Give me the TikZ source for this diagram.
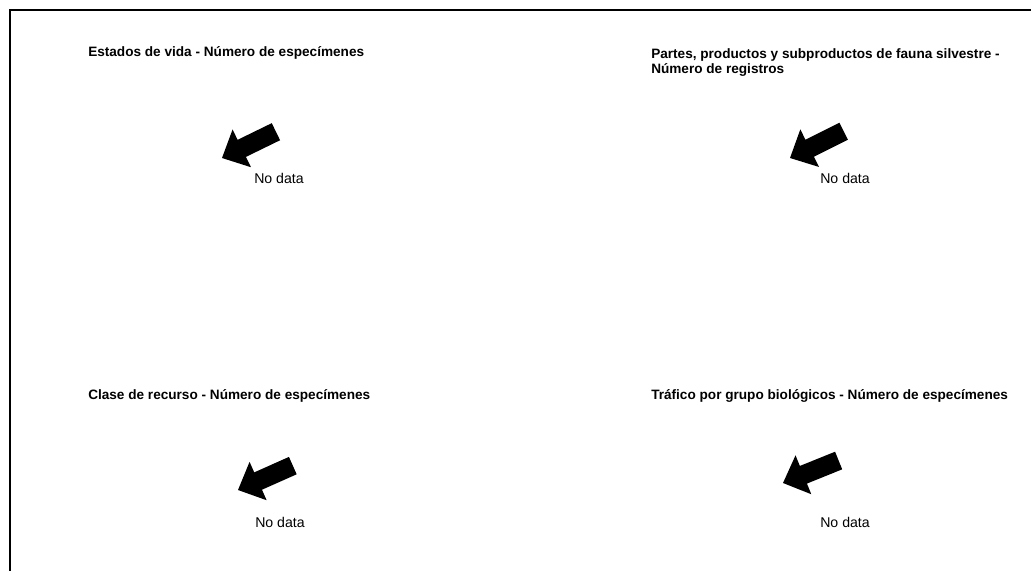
\documentclass[tikz,border=0pt]{standalone}
\usepackage{fontspec}
\setmainfont{Liberation Sans}
\begin{document}
\begin{tikzpicture}[x=0.75pt,y=-0.75pt,
  frameline/.style={line width=1.6pt, black},
  charttitle/.style={anchor=west, inner sep=0pt, font=\fontsize{10.2}{11.3}\selectfont\bfseries, align=left},
  nodata/.style={anchor=west, inner sep=0pt, font=\fontsize{10.6}{12}\selectfont},
  blockarrow/.pic={\fill[black] (0,0) -- (22,-21) -- (22,-9.5) -- (60,-9.5) -- (60,9.5) -- (22,9.5) -- (22,21) -- cycle;}]
\useasboundingbox (0,0) rectangle (1031,571);
\fill[white] (0,0) rectangle (1031,571);
% frame
\coordinate (ftr) at (1031,10);
\coordinate (ftl) at (10,10);
\coordinate (fbl) at (10,571);
\draw[frameline] (ftr) -- (ftl) -- (fbl);
% titles
\node[charttitle] (t1) at (88,53) {Estados de vida - Número de especímenes};
\node[charttitle, anchor=north west] (t2) at (651,48.5) {Partes, productos y subproductos de fauna silvestre -\\Número de registros};
\node[charttitle] (t3) at (88,396) {Clase de recurso - Número de especímenes};
\node[charttitle] (t4) at (651,396) {Tráfico por grupo biológicos - Número de especímenes};
% arrows
\pic[shift={(222,158)}, rotate=26] {blockarrow};
\pic[shift={(790,158)}, rotate=26.5] {blockarrow};
\pic[shift={(238,490)}, rotate=24] {blockarrow};
\pic[shift={(783,483)}, rotate=22] {blockarrow};
% no data
\node[nodata] (n1) at (254,178) {No data};
\node[nodata] (n2) at (820,178) {No data};
\node[nodata] (n3) at (255,522) {No data};
\node[nodata] (n4) at (820,522) {No data};
\end{tikzpicture}
\end{document}
